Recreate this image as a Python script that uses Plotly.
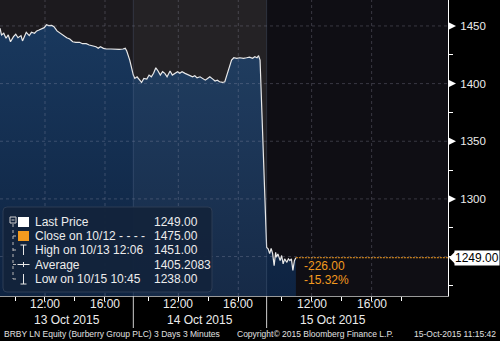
import plotly.graph_objects as go

# ---------------- data ----------------
day_labels = ["13 Oct 2015", "14 Oct 2015", "15 Oct 2015"]

# minutes after 09:00 (chart local time) and prices, 3-minute bars (sampled)
day1_minutes = [0, 6, 15, 24, 33, 42, 54, 63, 72, 84, 90, 99, 105, 117, 126, 138, 147, 156, 168, 177,
                186, 195, 207, 216, 228, 240, 252, 267, 279, 291, 303, 318, 330, 345, 357, 372, 384, 393,
                402, 414, 426, 444, 459, 477, 492, 501, 507, 513, 519]
day1_prices = [1448.0, 1442.2, 1443.7, 1439.3, 1442.2, 1436.3, 1440.7, 1442.8, 1439.8, 1441.6,
               1437.0, 1442.2, 1444.5, 1441.6, 1444.5, 1443.7, 1445.7, 1446.5, 1447.4, 1448.5,
               1451.0, 1450.3, 1450.5, 1449.4, 1445.7, 1443.7, 1441.6, 1439.8, 1438.7, 1436.3,
               1435.8, 1435.8, 1434.6, 1434.6, 1433.5, 1432.9, 1432.0, 1430.6, 1432.0, 1430.6,
               1430.0, 1430.0, 1429.7, 1429.7, 1430.0, 1430.6, 1428.3, 1424.8, 1420.4]

day2_minutes = [0, 6, 15, 24, 33, 42, 54, 63, 72, 81, 90, 99, 108, 117, 126, 135, 147, 156, 165, 177,
                186, 195, 207, 216, 228, 237, 246, 255, 267, 276, 288, 297, 306, 318, 327, 336, 345, 357,
                366, 372, 381, 387, 393, 402, 414, 426, 441, 453, 465, 477, 486, 495, 501, 507]
day2_prices = [1407.4, 1404.5, 1405.9, 1403.0, 1401.0, 1404.5, 1403.9, 1407.4, 1405.9, 1408.9,
               1413.7, 1410.9, 1407.4, 1410.3, 1408.9, 1405.9, 1410.9, 1407.4, 1408.9, 1410.3,
               1408.9, 1410.3, 1408.9, 1408.0, 1407.4, 1405.9, 1406.8, 1405.0, 1405.9, 1404.5,
               1403.0, 1404.5, 1405.9, 1403.9, 1402.2, 1403.0, 1401.6, 1401.0, 1401.6, 1405.9,
               1411.7, 1417.6, 1420.4, 1422.4, 1421.9, 1422.4, 1421.9, 1422.4, 1423.0, 1421.9,
               1423.3, 1422.4, 1424.2, 1420.4]

day3_minutes = [0, 6, 12, 18, 24, 30, 36, 39, 45, 54, 60, 66, 72, 81, 87, 93, 99, 105, 111, 117]
day3_prices = [1257.8, 1256.7, 1252.6, 1257.0, 1252.6, 1242.2, 1253.7, 1249.4, 1252.3, 1246.5,
               1250.9, 1243.7, 1248.0, 1245.0, 1248.0, 1246.5, 1248.0, 1238.0, 1246.5, 1249.0]

y_tick_values = [1250, 1300, 1350, 1400, 1450]
y_tick_labels = ["", "1300", "1350", "1400", "1450"]
y_minor_step = 25
x_tick_hours = [[10, 12, 14, 16], [10, 12, 14, 16], [10, 12, 14, 16, 18]]
x_label_hours = [12, 16]
x_label_text = ["12:00", "16:00"]

legend_labels = ["Last Price", "Close on 10/12 - - - -", "High on 10/13 12:06", "Average", "Low on 10/15 10:45"]
legend_values = ["1249.00", "1475.00", "1451.00", "1405.2083", "1238.00"]
last_price = 1249.00
net_change_text = ["-226.00", "-15.32%"]
footer_text = ["BRBY LN Equity (Burberry Group PLC) 3 Days 3 Minutes",
               "Copyright\u00a9 2015 Bloomberg Finance L.P.",
               "15-Oct-2015 11:15:42"]

# ---------------- axis helpers ----------------
SESSION_START = 9          # hour at the start of each day slot
DAY_SPAN = 8.889           # hours per day slot on the axis
X_MAX = 29.87
Y_RANGE = [1215.8, 1472.5]


def xpos(day, minute):
    return day * DAY_SPAN + minute / 60.0


xs, ys = [], []
for d, (mins, prices) in enumerate([(day1_minutes, day1_prices),
                                    (day2_minutes, day2_prices),
                                    (day3_minutes, day3_prices)]):
    xs += [xpos(d, m) for m in mins]
    ys += prices

PLOT_W, PLOT_H = 448, 296


def px(x):
    return x / PLOT_W


def py(y):
    return (PLOT_H - y) / PLOT_H


FONT = "Liberation Sans, Arial, sans-serif"
ORANGE = "#f29a1f"
TXT = "#ececec"

fig = go.Figure()

# price area
fig.add_trace(go.Scatter(
    x=xs, y=ys, mode="lines",
    line=dict(color="#e8e8e8", width=1.2),
    fill="tozeroy",
    fillgradient=dict(type="vertical",
                      colorscale=[[0, "#0e2341"], [1, "#1a3a60"]],
                      start=Y_RANGE[0], stop=Y_RANGE[1]),
    hoverinfo="skip"))

# orange last-price guide line
fig.add_trace(go.Scatter(
    x=[xs[-1], X_MAX], y=[last_price, last_price], mode="lines",
    line=dict(color=ORANGE, width=1, dash="2px,1px"), hoverinfo="skip", cliponaxis=False))

shapes = []
# day background bands
band_colors = ["#1c1a1e", "#1c1a1e", "#0f0e14"]
for d in range(3):
    x1 = (d + 1) * DAY_SPAN if d < 2 else X_MAX
    shapes.append(dict(type="rect", xref="x", yref="paper", x0=d * DAY_SPAN, x1=x1, y0=0, y1=1,
                       fillcolor=band_colors[d], line=dict(width=0), layer="below"))
# lighter overlay for middle day
shapes.append(dict(type="rect", xref="x", yref="paper", x0=DAY_SPAN, x1=2 * DAY_SPAN, y0=0, y1=1,
                   fillcolor="rgba(255,255,255,0.035)", line=dict(width=0), layer="above"))

GRID = dict(color="rgba(165,165,185,0.28)", width=1, dash="dot")
for v in y_tick_values:
    shapes.append(dict(type="line", xref="paper", yref="y", x0=0, x1=1, y0=v, y1=v,
                       line=GRID, layer="above"))
for d in range(3):
    for h in x_label_hours:
        xv = xpos(d, (h - SESSION_START) * 60)
        shapes.append(dict(type="line", xref="x", yref="paper", x0=xv, x1=xv, y0=0, y1=1,
                           line=GRID, layer="above"))
for d in (1, 2):
    shapes.append(dict(type="line", xref="x", yref="paper", x0=d * DAY_SPAN, x1=d * DAY_SPAN, y0=0, y1=1,
                       line=dict(color="rgba(120,140,170,0.25)", width=1), layer="above"))
    # day separator below axis
    shapes.append(dict(type="line", xref="x", yref="paper", x0=d * DAY_SPAN, x1=d * DAY_SPAN,
                       y0=0, y1=py(328), line=dict(color="#d0d0d0", width=1), layer="above"))

# y-axis triangles on major ticks
for v in y_tick_values[1:]:
    shapes.append(dict(type="path", xref="paper", yref="y", xsizemode="pixel", ysizemode="pixel",
                       xanchor=1, yanchor=v, path="M 0,-4 L 8,0 L 0,4 Z",
                       fillcolor="white", line=dict(width=0), layer="above"))
# last price pointer
shapes.append(dict(type="path", xref="paper", yref="y", xsizemode="pixel", ysizemode="pixel",
                   xanchor=1, yanchor=last_price, path="M 1,0 L 7,-6 L 7,6 Z",
                   fillcolor="white", line=dict(width=0), layer="above"))

# legend box (rounded)
bx0, bx1, by0, by1 = px(3), px(212), py(292), py(207)
rx, ry = 4 / PLOT_W, 4 / PLOT_H
path = (f"M {bx0+rx},{by0} L {bx1-rx},{by0} Q {bx1},{by0} {bx1},{by0+ry} "
        f"L {bx1},{by1-ry} Q {bx1},{by1} {bx1-rx},{by1} L {bx0+rx},{by1} "
        f"Q {bx0},{by1} {bx0},{by1-ry} L {bx0},{by0+ry} Q {bx0},{by0} {bx0+rx},{by0} Z")
shapes.append(dict(type="path", xref="paper", yref="paper", path=path,
                   fillcolor="rgba(19,35,59,0.96)", line=dict(color="#2c3c54", width=1), layer="above"))

row_y = [222, 236, 250, 264.5, 279]
TREE = dict(color="#b8b8b8", width=1, dash="dot")
# tree: box with minus
shapes.append(dict(type="rect", xref="paper", yref="paper", x0=px(10), x1=px(16), y0=py(223), y1=py(217),
                   line=dict(color="#cfcfcf", width=1), fillcolor="rgba(0,0,0,0)", layer="above"))
shapes.append(dict(type="line", xref="paper", yref="paper", x0=px(11.5), x1=px(14.5), y0=py(220), y1=py(220),
                   line=dict(color="#cfcfcf", width=1), layer="above"))
shapes.append(dict(type="line", xref="paper", yref="paper", x0=px(13), x1=px(13), y0=py(224), y1=py(row_y[4]),
                   line=TREE, layer="above"))
for ry_ in row_y[1:]:
    shapes.append(dict(type="line", xref="paper", yref="paper", x0=px(13), x1=px(17), y0=py(ry_), y1=py(ry_),
                       line=TREE, layer="above"))
# icons
shapes.append(dict(type="rect", xref="paper", yref="paper", x0=px(18), x1=px(29), y0=py(227), y1=py(217),
                   fillcolor="white", line=dict(width=0), layer="above"))
shapes.append(dict(type="rect", xref="paper", yref="paper", x0=px(18), x1=px(29), y0=py(241), y1=py(231),
                   fillcolor=ORANGE, line=dict(width=0), layer="above"))
ICON = dict(color="#e8e8e8", width=1)
# high "T"
shapes.append(dict(type="line", xref="paper", yref="paper", x0=px(20.5), x1=px(26.5), y0=py(245), y1=py(245),
                   line=ICON, layer="above"))
shapes.append(dict(type="line", xref="paper", yref="paper", x0=px(23.5), x1=px(23.5), y0=py(245), y1=py(255),
                   line=ICON, layer="above"))
# average "-+-"
shapes.append(dict(type="line", xref="paper", yref="paper", x0=px(17.5), x1=px(29.5), y0=py(264.5), y1=py(264.5),
                   line=ICON, layer="above"))
shapes.append(dict(type="line", xref="paper", yref="paper", x0=px(23.5), x1=px(23.5), y0=py(262), y1=py(267),
                   line=ICON, layer="above"))
# low "⊥"
shapes.append(dict(type="line", xref="paper", yref="paper", x0=px(20.5), x1=px(26.5), y0=py(284), y1=py(284),
                   line=ICON, layer="above"))
shapes.append(dict(type="line", xref="paper", yref="paper", x0=px(23.5), x1=px(23.5), y0=py(274), y1=py(284),
                   line=ICON, layer="above"))

annotations = []
for lab, val, yy in zip(legend_labels, legend_values, row_y):
    annotations.append(dict(xref="paper", yref="paper", x=px(33), y=py(yy), text=lab, showarrow=False,
                            xanchor="left", yanchor="middle", font=dict(family=FONT, size=12, color=TXT)))
    annotations.append(dict(xref="paper", yref="paper", x=px(151.5), y=py(yy), text=val, showarrow=False,
                            xanchor="left", yanchor="middle", font=dict(family=FONT, size=12, color=TXT)))

# net change labels
for i, t in enumerate(net_change_text):
    annotations.append(dict(xref="x", yref="y", x=xs[-1], y=last_price, text=t, showarrow=False,
                            xanchor="left", yanchor="middle", xshift=6, yshift=-8 - 14.5 * i,
                            font=dict(family=FONT, size=12, color=ORANGE)))

# last price box
annotations.append(dict(xref="paper", yref="y", x=1, y=last_price, text=f"{last_price:.2f}", showarrow=False,
                        xanchor="left", yanchor="middle", xshift=6, bgcolor="white", borderpad=0,
                        font=dict(family=FONT, size=12, color="black")))

# x labels (times and dates)
for d in range(3):
    for h, t in zip(x_label_hours, x_label_text):
        annotations.append(dict(xref="x", yref="paper", x=xpos(d, (h - SESSION_START) * 60), y=py(304),
                                text=t, showarrow=False, xanchor="center", yanchor="middle",
                                font=dict(family=FONT, size=12, color=TXT)))
    annotations.append(dict(xref="x", yref="paper", x=(d + 0.5) * DAY_SPAN, y=py(320),
                            text=day_labels[d], showarrow=False, xanchor="center", yanchor="middle",
                            font=dict(family=FONT, size=12, color=TXT)))

# footer
foot_x = [(0.004, "left"), (0.47, "left"), (0.996, "right")]
for (fx, anchor), t in zip(foot_x, footer_text):
    annotations.append(dict(xref="paper", yref="paper", x=fx * 500 / PLOT_W, y=py(333.5), text=t,
                            showarrow=False, xanchor=anchor, yanchor="middle",
                            font=dict(family=FONT, size=8.5, color="#e0e0e0")))

tickvals_x = [xpos(d, (h - SESSION_START) * 60) for d in range(3) for h in x_tick_hours[d]]

fig.update_layout(
    width=500, height=341,
    margin=dict(l=0, r=52, t=0, b=45),
    paper_bgcolor="black", plot_bgcolor="#0f0e14",
    showlegend=False,
    font=dict(family=FONT, color=TXT),
    shapes=shapes, annotations=annotations,
    xaxis=dict(range=[0, X_MAX], tickvals=tickvals_x, ticktext=[""] * len(tickvals_x),
               ticks="outside", ticklen=4, tickcolor="white", showgrid=False, zeroline=False,
               showline=True, linecolor="#9a9a9a", linewidth=1, fixedrange=True),
    yaxis=dict(range=Y_RANGE, side="right", tickvals=y_tick_values, ticktext=y_tick_labels,
               ticks="outside", ticklen=9, tickcolor="rgba(0,0,0,0)",
               tickfont=dict(family=FONT, size=11.5, color=TXT),
               minor=dict(ticks="outside", ticklen=4, tickcolor="white", dtick=y_minor_step, tick0=1225),
               showgrid=False, zeroline=False, showline=True, linecolor="white", linewidth=1,
               fixedrange=True),
)

fig.write_html("out.html")
